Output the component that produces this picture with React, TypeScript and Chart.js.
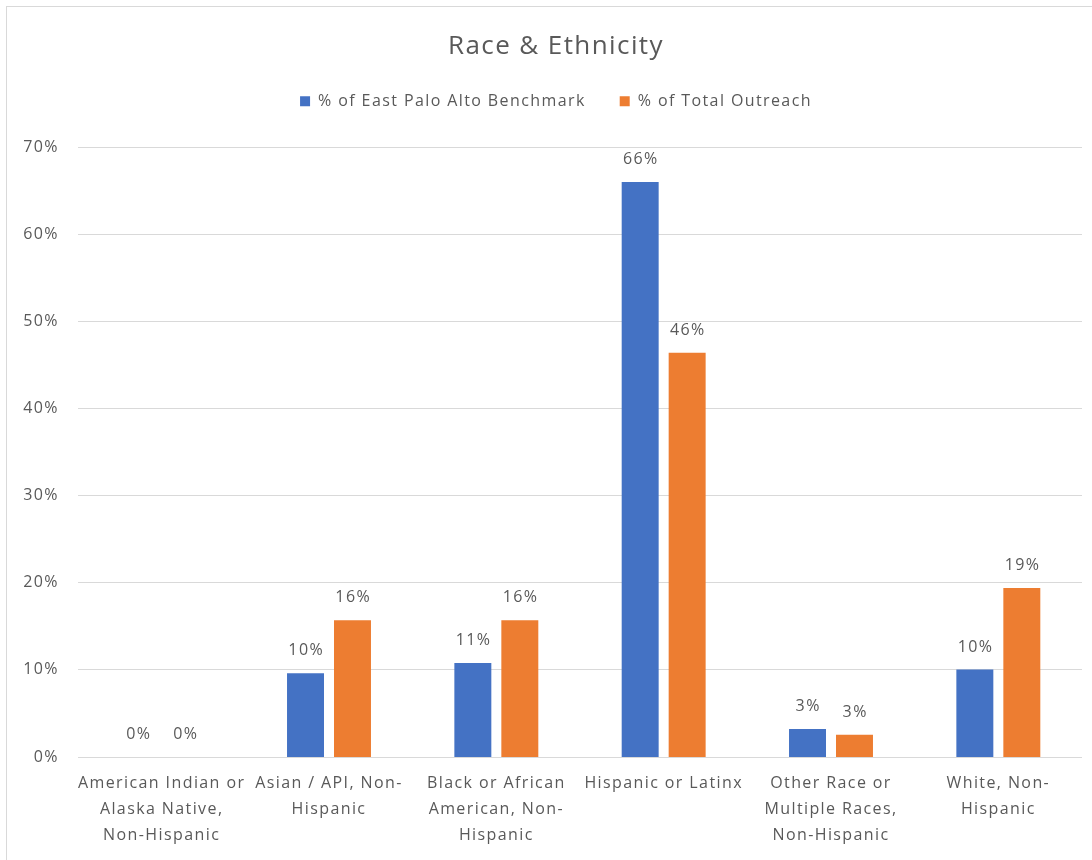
import React, { useEffect, useRef } from "react";
import { Chart, registerables } from "chart.js";

Chart.register(...registerables);

const titleText = "Race & Ethnicity";
const categories: string[][] = [
  ["American Indian or", "Alaska Native,", "Non-Hispanic"],
  ["Asian / API, Non-", "Hispanic"],
  ["Black or African", "American, Non-", "Hispanic"],
  ["Hispanic or Latinx"],
  ["Other Race or", "Multiple Races,", "Non-Hispanic"],
  ["White, Non-", "Hispanic"],
];
const seriesNames = ["% of East Palo Alto Benchmark", "% of Total Outreach"];
const benchmarkValues = [0, 9.6, 10.8, 66.0, 3.2, 10.05];
const outreachValues = [0, 15.7, 15.7, 46.4, 2.55, 19.4];
const seriesColors = ["#4472C4", "#ED7D31"];
const yMin = 0;
const yMax = 70;
const yStep = 10;

const FONT = "'Open Sans', 'Noto Sans', sans-serif";
const TEXT = "#595959";
const SPACING = "1.4px";

const spacingPlugin = {
  id: "spacing",
  beforeUpdate(chart: any) {
    chart.ctx.letterSpacing = SPACING;
  },
  beforeDraw(chart: any) {
    chart.ctx.letterSpacing = SPACING;
  },
};

const backgroundPlugin = {
  id: "bgFrame",
  beforeDraw(chart: any) {
    const ctx = chart.ctx;
    ctx.save();
    ctx.fillStyle = "#ffffff";
    ctx.fillRect(0, 0, chart.width, chart.height);
    ctx.strokeStyle = "#d9d9d9";
    ctx.lineWidth = 1;
    ctx.strokeRect(6.5, 6.5, chart.width + 20, chart.height + 20);
    ctx.restore();
  },
};

const dataLabelPlugin = {
  id: "dataLabels",
  afterDatasetsDraw(chart: any) {
    const ctx = chart.ctx;
    ctx.save();
    ctx.fillStyle = TEXT;
    ctx.font = `16px ${FONT}`;
    ctx.textAlign = "center";
    ctx.textBaseline = "middle";
    chart.data.datasets.forEach((ds: any, di: number) => {
      const meta = chart.getDatasetMeta(di);
      meta.data.forEach((bar: any, i: number) => {
        const v = ds.data[i];
        ctx.fillText(Math.round(v) + "%", bar.x + 0.7, bar.y - 22.5);
      });
    });
    ctx.restore();
  },
};

export default function App() {
  const ref = useRef<HTMLCanvasElement | null>(null);
  useEffect(() => {
    document.body.style.margin = "0";
    const canvas = ref.current!;
    const chart = new Chart(canvas, {
      type: "bar",
      data: {
        labels: categories,
        datasets: [
          {
            label: seriesNames[0],
            data: benchmarkValues,
            backgroundColor: seriesColors[0],
            barPercentage: 0.787,
            categoryPercentage: 0.5615,
          },
          {
            label: seriesNames[1],
            data: outreachValues,
            backgroundColor: seriesColors[1],
            barPercentage: 0.787,
            categoryPercentage: 0.5615,
          },
        ],
      },
      options: {
        responsive: false,
        animation: false,
        layout: { padding: { left: 20, right: 0, top: 0, bottom: 0 } },
        plugins: {
          title: {
            display: true,
            text: titleText,
            color: TEXT,
            font: { family: FONT, size: 26, weight: "normal", lineHeight: 1.2 },
            padding: { top: 31, bottom: -3 },
          },
          legend: {
            display: true,
            position: "top",
            labels: {
              color: TEXT,
              font: { family: FONT, size: 16 },
              boxWidth: 10,
              boxHeight: 10,
              padding: 34,
            },
          },
          tooltip: { enabled: false },
        },
        scales: {
          x: {
            grid: { display: false, drawTicks: false },
            border: { display: false },
            ticks: {
              color: TEXT,
              font: { family: FONT, size: 16, lineHeight: 1.625 },
              padding: 13,
              maxRotation: 0,
              autoSkip: false,
            },
            afterFit(scale: any) {
              scale.height = 103;
            },
          },
          xTop: {
            type: "linear",
            position: "top",
            display: true,
            grid: { display: false, drawTicks: false },
            border: { display: false },
            ticks: { display: false },
            afterFit(scale: any) {
              scale.height = 28;
            },
          },
          yRight: {
            type: "linear",
            position: "right",
            display: true,
            grid: { display: false, drawTicks: false },
            border: { display: false },
            ticks: { display: false },
            afterFit(scale: any) {
              scale.width = 10;
            },
          },
          y: {
            min: yMin,
            max: yMax,
            grid: { color: "#d9d9d9", drawTicks: false },
            border: { display: false },
            ticks: {
              stepSize: yStep,
              color: TEXT,
              font: { family: FONT, size: 16 },
              padding: 19,
              callback: (v: any) => v + "%",
            },
            afterFit(scale: any) {
              scale.width = 58;
            },
          },
        },
      },
      plugins: [spacingPlugin, backgroundPlugin, dataLabelPlugin],
    });
    return () => chart.destroy();
  }, []);
  return <canvas ref={ref} width={1092} height={860} style={{ display: "block" }} />;
}
